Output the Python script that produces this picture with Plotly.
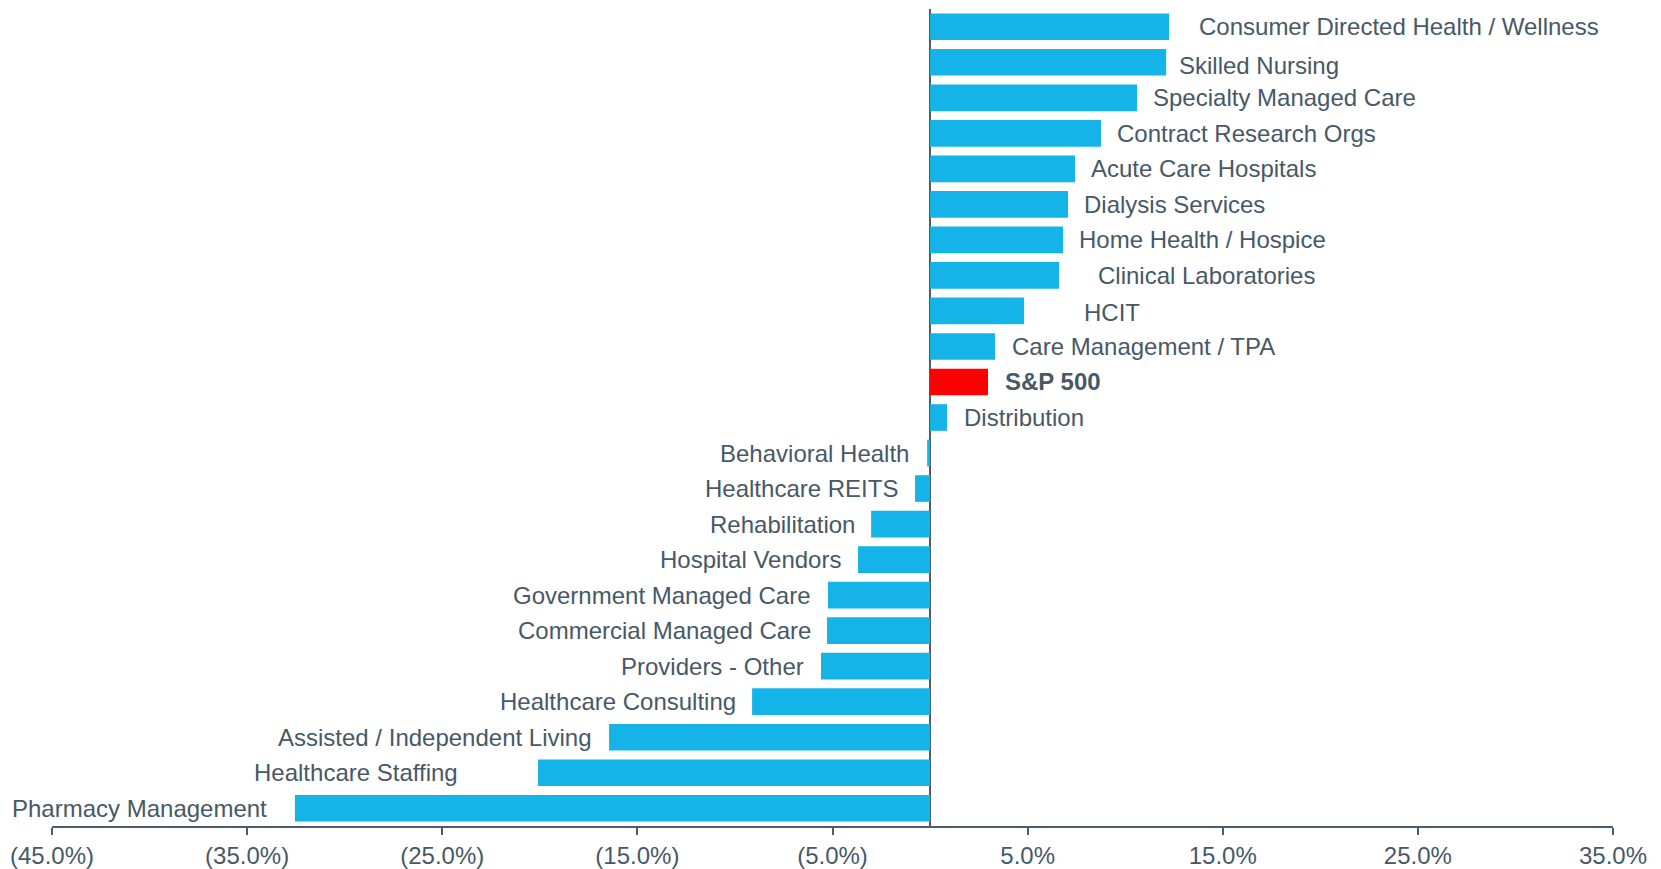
import plotly.graph_objects as go

categories = [
    "Consumer Directed Health / Wellness", "Skilled Nursing", "Specialty Managed Care",
    "Contract Research Orgs", "Acute Care Hospitals", "Dialysis Services",
    "Home Health / Hospice", "Clinical Laboratories", "HCIT", "Care Management / TPA",
    "S&P 500", "Distribution", "Behavioral Health", "Healthcare REITS", "Rehabilitation",
    "Hospital Vendors", "Government Managed Care", "Commercial Managed Care",
    "Providers - Other", "Healthcare Consulting", "Assisted / Independent Living",
    "Healthcare Staffing", "Pharmacy Management",
]
values = [
    12.25, 12.10, 10.61, 8.76, 7.43, 7.07, 6.82, 6.61, 4.82, 3.33,
    2.97, 0.87, -0.15, -0.77, -3.02, -3.69, -5.23, -5.28, -5.59, -9.12,
    -16.45, -20.09, -32.55,
]
tick_values = [-45, -35, -25, -15, -5, 5, 15, 25, 35]
tick_labels = ["(45.0%)", "(35.0%)", "(25.0%)", "(15.0%)", "(5.0%)", "5.0%", "15.0%", "25.0%", "35.0%"]

# style: pixel gap between bar end and its label, and small vertical nudges
label_gap = [30, 13, 16, 16, 16, 16, 16, 39, 60, 17, 17, 17,
             18, 17, 16, 17, 17, 16, 17, 16, 17, 80, 28]
label_yshift = [0, -3, 0, 0, 0, 0, 0, 0, -2, 0, 0, 0,
                0, 0, 0, 0, 0, 0, 0, 0, 0, 0, 0]

BLUE = "#14B4E8"
RED = "#FF0000"
TEXT = "#475867"
AXIS = "#4E5D6B"
FONT = "Arial, Liberation Sans, sans-serif"

colors = [RED if c == "S&P 500" else BLUE for c in categories]

fig = go.Figure(go.Bar(
    x=values, y=categories, orientation="h",
    marker=dict(color=colors, line=dict(width=0)),
    width=0.75, hoverinfo="x+y",
))

annotations = []
for c, v, g, ys in zip(categories, values, label_gap, label_yshift):
    bold = c == "S&P 500"
    annotations.append(dict(
        x=v, y=c, xref="x", yref="y",
        text=f"<b>{c}</b>" if bold else c,
        showarrow=False,
        xanchor="left" if v >= 0 else "right",
        yanchor="middle",
        xshift=g if v >= 0 else -g,
        yshift=ys,
        borderpad=0, borderwidth=0,
        font=dict(family=FONT, size=24, color=TEXT),
    ))

fig.update_layout(
    width=1661, height=869,
    margin=dict(l=44, r=56, t=1, b=51, autoexpand=False),
    paper_bgcolor="white", plot_bgcolor="white",
    showlegend=False,
    annotations=annotations,
    xaxis=dict(
        range=[-45, 35], tickvals=tick_values, ticktext=tick_labels,
        showgrid=False, zeroline=True, zerolinecolor=AXIS, zerolinewidth=1.5,
        showline=True, linecolor=AXIS, linewidth=1.5,
        ticks="outside", ticklen=7, tickwidth=1.5, tickcolor=AXIS,
        tickfont=dict(family=FONT, size=24, color=TEXT),
        automargin=False,
    ),
    yaxis=dict(
        autorange="reversed", showticklabels=False, showgrid=False,
        zeroline=False, showline=False, ticks="", automargin=False,
    ),
)

fig.write_html("out.html")
